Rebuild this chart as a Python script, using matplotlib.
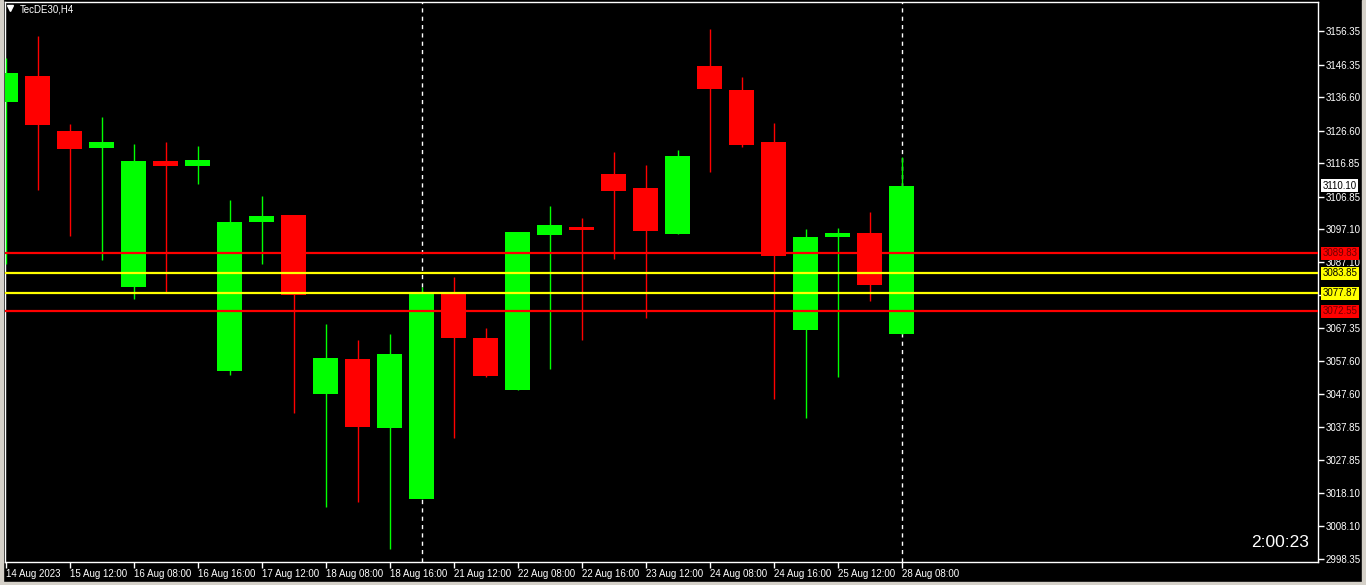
import matplotlib
matplotlib.use("Agg")
import matplotlib.pyplot as plt
from matplotlib.patches import Rectangle
import numpy as np

plt.rcParams["font.family"] = ["Liberation Sans", "DejaVu Sans"]

# H4 candles, TecDE30
opens = [3135.15, 3142.94, 3126.47, 3121.38, 3079.76, 3117.49, 3115.99, 3054.61,
         3099.22, 3101.32, 3047.73, 3058.21, 3037.55, 3016.29, 3077.67, 3064.49,
         3048.92, 3095.33, 3097.73, 3113.60, 3109.40, 3095.63, 3145.93, 3138.74,
         3123.18, 3066.89, 3094.73, 3095.93, 3065.69]
highs = [3148.33, 3154.91, 3128.57, 3130.66, 3122.58, 3123.18, 3121.98, 3105.81,
         3107.01, 3101.32, 3068.69, 3063.89, 3065.69, 3079.76, 3082.76, 3067.49,
         3096.23, 3104.01, 3100.42, 3120.18, 3116.29, 3120.78, 3157.01, 3142.64,
         3128.86, 3097.13, 3097.43, 3102.22, 3118.69]
lows = [3086.65, 3108.80, 3095.03, 3087.85, 3076.17, 3078.27, 3110.60, 3053.42,
        3086.65, 3042.04, 3013.89, 3015.39, 3001.32, 3016.29, 3034.55, 3052.82,
        3048.92, 3055.21, 3063.89, 3088.15, 3070.48, 3095.63, 3114.19, 3121.68,
        3046.23, 3040.54, 3052.82, 3075.57, 3065.69]
closes = [3143.83, 3128.27, 3121.08, 3123.18, 3117.49, 3115.99, 3117.79, 3099.22,
          3101.02, 3077.37, 3058.51, 3037.85, 3059.70, 3077.67, 3064.49, 3053.12,
          3096.23, 3098.33, 3096.83, 3108.51, 3096.53, 3118.98, 3139.04, 3122.28,
          3089.04, 3094.73, 3095.93, 3080.36, 3110.10]

time_labels = ["14 Aug 2023", "15 Aug 12:00", "16 Aug 08:00", "16 Aug 16:00",
               "17 Aug 12:00", "18 Aug 08:00", "18 Aug 16:00", "21 Aug 12:00",
               "22 Aug 08:00", "22 Aug 16:00", "23 Aug 12:00", "24 Aug 08:00",
               "24 Aug 16:00", "25 Aug 12:00", "28 Aug 08:00"]

price_ticks = [3156.35, 3146.35, 3136.60, 3126.60, 3116.85, 3106.85, 3097.10,
               3087.10, 3077.35, 3067.35, 3057.60, 3047.60, 3037.85, 3027.85,
               3018.10, 3008.10, 2998.35]
hidden_ticks = [3077.35]  # sits under the 3077.87 box

red_levels = [3089.83, 3072.55]
yellow_levels = [3083.85, 3077.87]
separators = [13, 28]
last_price = 3110.10

W, H = 1366, 585
fig = plt.figure(figsize=(W / 100, H / 100), dpi=100, facecolor="black")
ax = fig.add_axes([5 / W, (H - 562) / H, (1318 - 5) / W, (562 - 2) / H])
ax.set_facecolor("black")

# window chrome
grey = "#d4d0c8"
for (x0, y0, w, h) in [(0, 0, 3, H), (1362, 0, 4, H), (0, 0, W, 3)]:
    fig.patches.append(Rectangle((x0 / W, y0 / H), w / W, h / H,
                                 transform=fig.transFigure, color=grey, zorder=0))

o = np.array(opens)
c = np.array(closes)
x = np.arange(len(o))
up = c >= o
colors = np.where(up, "#00ff00", "#ff0000")

ax.vlines(x, lows, highs, colors=colors, lw=1, zorder=3)
bottom = np.minimum(o, c)
height = np.maximum(np.abs(c - o), 0.3)
ax.bar(x, height, bottom=bottom, width=0.78, color=colors, lw=0, zorder=4)

for lv in red_levels:
    ax.axhline(lv, color="#ff0000", lw=1.6, zorder=5)
for lv in yellow_levels:
    ax.axhline(lv, color="#ffff00", lw=1.6, zorder=5)
for s in separators:
    ax.axvline(s, color="white", lw=1, ls=(0, (3, 3)), zorder=2)

ax.set_xlim(-0.02, 41.0)
ax.set_ylim(2997.4, 3165.1)

for sp in ax.spines.values():
    sp.set_color("white")
    sp.set_linewidth(1)

ax.yaxis.tick_right()
ax.set_yticks(price_ticks)
ax.set_yticklabels(["" if v in hidden_ticks else f"{v:.2f}" for v in price_ticks])
ax.tick_params(axis="y", colors="white", labelcolor="white", length=4,
               width=1, labelsize=7, pad=1.5)

ax.set_xticks(np.arange(0, len(o), 2))
ax.set_xticklabels(time_labels, ha="left")
ax.tick_params(axis="x", colors="white", labelcolor="white", length=4,
               width=1, labelsize=7, pad=1)

# price boxes on the right scale
boxes = [(last_price, "white", "black"),
         (red_levels[0], "#ff0000", "#700000"),
         (yellow_levels[0], "#ffff00", "black"),
         (yellow_levels[1], "#ffff00", "black"),
         (red_levels[1], "#ff0000", "#700000")]
for val, bg, fg in boxes:
    ax.annotate(f"{val:.2f}", xy=(1.0, val), xycoords=("axes fraction", "data"),
                xytext=(3.5, 0), textcoords="offset points", ha="left", va="center",
                fontsize=7, color=fg, zorder=10, annotation_clip=False,
                bbox=dict(boxstyle="square,pad=0.15", fc=bg, ec="none"))

ax.text(0.0115, 0.9875, "TecDE30,H4", transform=ax.transAxes, color="white",
        fontsize=7, ha="left", va="center")
ax.plot([0.0038], [0.9885], marker="v", color="white", markersize=4,
        transform=ax.transAxes, clip_on=False)
ax.text(0.9935, 0.034, "2:00:23", transform=ax.transAxes, color="white",
        fontsize=12.5, ha="right", va="center")

fig.savefig("out.png", dpi=100, facecolor="black")
